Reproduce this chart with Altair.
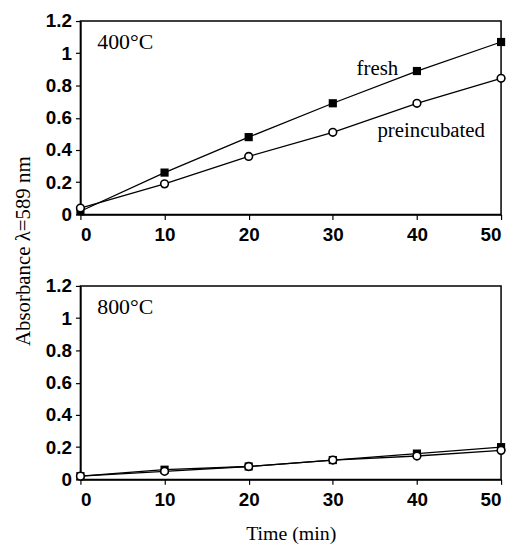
import altair as alt
import pandas as pd

time = [0, 10, 20, 30, 40, 50]
fresh_400 = [0.02, 0.26, 0.48, 0.69, 0.89, 1.07]
pre_400 = [0.04, 0.19, 0.36, 0.51, 0.69, 0.845]
fresh_800 = [0.02, 0.06, 0.08, 0.12, 0.16, 0.20]
pre_800 = [0.02, 0.05, 0.08, 0.12, 0.145, 0.18]

y_ticks = [0, 0.2, 0.4, 0.6, 0.8, 1.0, 1.2]
x_ticks = [0, 10, 20, 30, 40, 50]

ann_text = ["fresh", "preincubated"]
ann_x = [35.3, 41.7]
ann_y = [0.905, 0.517]

y_title = ["Absorbance λ=589 nm"]

SERIF = "Liberation Serif"
SANS = "Liberation Sans"
W, H = 424, 195


def panel(fresh, pre, label, show_xtitle, show_ytitle, annotations):
    df = pd.DataFrame({
        "t": time * 2,
        "a": fresh + pre,
        "s": ["fresh"] * len(time) + ["preincubated"] * len(time),
    })
    xenc = alt.X("t:Q", scale=alt.Scale(domain=[0, 50], nice=False),
                 axis=alt.Axis(values=x_ticks, title="Time (min)" if show_xtitle else None,
                               grid=False, tickColor="black", domainColor="black",
                               tickSize=5, labelPadding=6, titlePadding=15,
                               labelOverlap=False))
    yenc = alt.Y("a:Q", scale=alt.Scale(domain=[0, 1.2], nice=False),
                 axis=alt.Axis(values=y_ticks, format="~g", grid=False, tickColor="black",
                               domainColor="black", tickSize=5, labelPadding=4,
                               labelOverlap=False, title=None))
    base = alt.Chart(df)
    lines = base.mark_line(color="black", strokeWidth=1.3).encode(
        x=xenc, y=yenc, detail="s:N")
    sq = base.transform_filter(alt.datum.s == "fresh").mark_point(
        shape="square", filled=True, color="black", size=68, opacity=1).encode(x=xenc, y=yenc)
    circ = base.transform_filter(alt.datum.s == "preincubated").mark_point(
        shape="circle", filled=True, fill="white", stroke="black", strokeWidth=1.6,
        size=60, opacity=1).encode(x=xenc, y=yenc)
    lab_df = pd.DataFrame({"t": [2.0], "a": [1.07], "txt": [label]})
    lab = alt.Chart(lab_df).mark_text(font=SERIF, fontSize=22, align="left",
                                      baseline="middle", color="black").encode(
        x=xenc, y=yenc, text="txt:N")
    layers = [lines, sq, circ, lab]
    if annotations:
        adf = pd.DataFrame({"t": ann_x, "a": ann_y, "txt": ann_text})
        ann = alt.Chart(adf).mark_text(font=SERIF, fontSize=21, align="center",
                                       baseline="middle", color="black").encode(
            x=xenc, y=yenc, text="txt:N")
        layers.append(ann)
    if show_ytitle:
        tdf = pd.DataFrame({"txt": y_title})
        yt = alt.Chart(tdf).mark_text(font=SERIF, fontSize=21, angle=270, align="center",
                                      baseline="middle", color="black").encode(
            x=alt.value(-57), y=alt.value(232), text="txt:N")
        layers.append(yt)
    return alt.layer(*layers).properties(width=W, height=H)


top = panel(fresh_400, pre_400, "400°C", False, True, True)
bottom = panel(fresh_800, pre_800, "800°C", True, False, False)

chart = alt.vconcat(top, bottom, spacing=72, bounds="flush").properties(
    padding={"left": 4, "top": 1, "right": 0, "bottom": 0}
).configure_view(stroke="black", strokeWidth=1.5).configure_axis(
    labelFont=SANS, labelFontSize=19, labelFontWeight="bold", labelColor="black",
    titleFont=SERIF, titleFontSize=20, titleFontWeight="normal", titleColor="black",
    domainWidth=1.5, tickWidth=1.2
)

chart.save("out.html", embed_options={"renderer": "svg", "actions": False})
